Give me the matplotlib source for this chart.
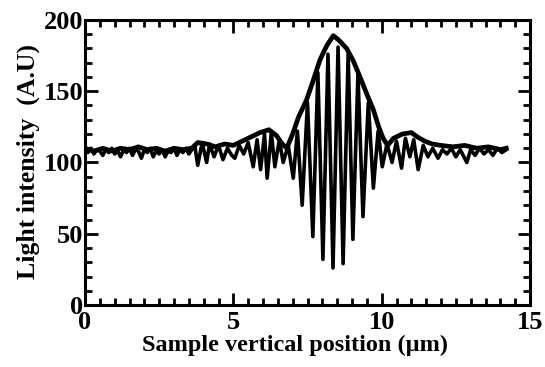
import matplotlib.pyplot as plt
from matplotlib.ticker import MultipleLocator

# interference signal (position in um, intensity)
fringe_x = [0.0, 0.1, 0.2, 0.3, 0.4, 0.5, 0.6, 0.7, 0.8, 0.9,
            1.0, 1.1, 1.2, 1.3, 1.4, 1.5, 1.6, 1.7, 1.8, 1.9,
            2.0, 2.1, 2.2, 2.3, 2.4, 2.5, 2.6, 2.7, 2.8, 2.9,
            3.0, 3.1, 3.2, 3.3, 3.4, 3.5, 3.6, 3.7,
            3.8, 3.95, 4.1, 4.2, 4.35, 4.5, 4.65, 4.8, 4.95, 5.05,
            5.2, 5.35, 5.5, 5.67, 5.8, 5.92, 6.05, 6.14, 6.28, 6.4,
            6.55, 6.68, 6.85, 7.02, 7.16, 7.32, 7.5, 7.68, 7.85, 8.02,
            8.19, 8.36, 8.53, 8.7, 8.87, 9.03, 9.2, 9.37, 9.55, 9.72,
            9.88, 10.02, 10.18, 10.35, 10.5, 10.67, 10.8, 10.95, 11.08, 11.23,
            11.4, 11.56, 11.72, 11.9, 12.05, 12.2, 12.35, 12.5, 12.65, 12.87,
            13.0, 13.15, 13.3, 13.45, 13.6, 13.75, 13.9, 14.05, 14.2]
fringe_y = [109, 107, 110, 106, 109, 108, 105, 109, 107, 110,
            106, 108, 104, 109, 107, 110, 105, 109, 108, 103,
            109, 107, 110, 104, 108, 106, 109, 104, 108, 107,
            110, 105, 109, 107, 110, 106, 109, 112,
            98, 114, 100, 113, 104, 112, 102, 110, 105, 103,
            112, 106, 114, 97, 116, 95, 120, 89, 121, 97,
            116, 100, 112, 89, 122, 70, 142, 48, 163, 32,
            176, 26, 181, 29, 176, 46, 162, 62, 142, 82,
            122, 97, 113, 100, 115, 96, 117, 104, 116, 95,
            112, 104, 110, 103, 109, 106, 110, 104, 109, 100,
            109, 105, 110, 106, 109, 105, 110, 107, 109]

# upper envelope
env_x = [0.0, 0.3, 0.6, 0.9, 1.2, 1.5, 1.8, 2.1, 2.4, 2.7, 3.0, 3.3, 3.6,
         3.8, 4.1, 4.4, 4.7, 5.0, 5.3, 5.6, 5.9, 6.2, 6.45, 6.65, 6.8,
         7.0, 7.2, 7.47, 7.7, 7.92, 8.15, 8.37, 8.55, 8.82, 9.05, 9.27,
         9.5, 9.72, 9.9, 10.05, 10.2, 10.4, 10.7, 11.0, 11.2, 11.45, 11.7,
         12.0, 12.4, 12.8, 13.2, 13.6, 14.0, 14.2]
env_y = [110, 108, 110, 108, 110, 109, 111, 109, 110, 108, 110, 109, 110,
         114, 113, 111, 113, 112, 115, 118, 121, 123, 119, 113, 110,
         120, 132, 144, 158, 172, 182, 189, 186, 180, 171, 160,
         148, 137, 125, 117, 112, 117, 120, 121, 118, 115, 113,
         112, 111, 112, 110, 111, 109, 110]

plt.rcParams['font.family'] = ['Liberation Serif', 'DejaVu Serif']
plt.rcParams['font.weight'] = 'bold'

fig = plt.figure(figsize=(5.45, 3.67), dpi=100)
ax = fig.add_axes([85 / 545, 62 / 367, 445 / 545, 285 / 367])

ax.plot(fringe_x, fringe_y, color='black', linewidth=2.6)
ax.plot(env_x, env_y, color='black', linewidth=3.4)

ax.set_xlim(0, 15)
ax.set_ylim(0, 200)
ax.xaxis.set_major_locator(MultipleLocator(5))
ax.xaxis.set_minor_locator(MultipleLocator(0.5))
ax.yaxis.set_major_locator(MultipleLocator(50))
ax.yaxis.set_minor_locator(MultipleLocator(10))
ax.tick_params(which='both', direction='in', top=True, right=True, width=2.0)
ax.tick_params(which='major', length=9, labelsize=19, pad=1)
ax.tick_params(axis='x', which='major', pad=4)
ax.tick_params(which='minor', length=5)
for s in ax.spines.values():
    s.set_linewidth(2.2)

ax.set_xlabel('Sample vertical position (\u00b5m)', fontsize=17.5, fontweight='bold')
ax.xaxis.set_label_coords(0.471, -0.105)
ax.set_ylabel('Light intensity  (A.U)', fontsize=18.5, fontweight='bold')
ax.yaxis.set_label_coords(-0.10, 0.505)

fig.savefig('out.png', dpi=100)
